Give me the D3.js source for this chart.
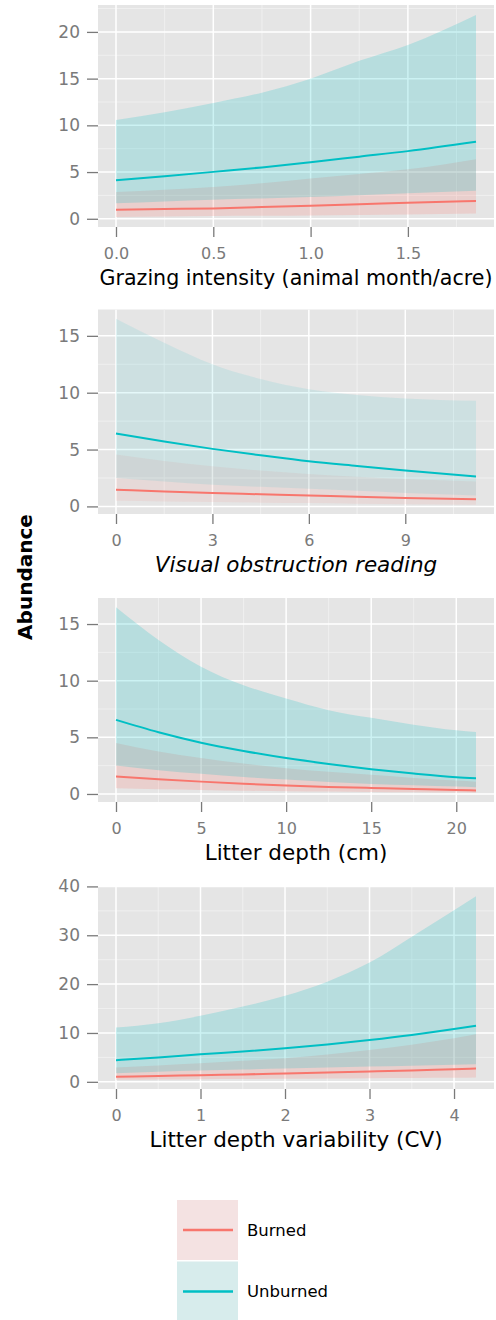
<!DOCTYPE html>
<html>
<head>
<meta charset="utf-8">
<script src="https://cdn.jsdelivr.net/npm/d3@7"></script>
<style>
  body { margin: 0; background: #fff; }
  svg text { font-family: "DejaVu Sans", "Liberation Sans", Arial, sans-serif; }
  .tick text { fill: #7a7a7a; }
  .tick line { stroke: #7a7a7a; stroke-width: 1.3; }
</style>
</head>
<body>
<div id="chart"></div>
<script>
// ---- data ----
var groups = ["Burned", "Unburned"];

// Grazing intensity
var grazX = [0, 0.25, 0.5, 0.75, 1.0, 1.25, 1.5, 1.85];
var grazBurnFit = [0.97, 1.04, 1.11, 1.25, 1.4, 1.55, 1.72, 1.9];
var grazBurnLo = [0.2, 0.25, 0.29, 0.32, 0.36, 0.41, 0.47, 0.57];
var grazBurnHi = [2.87, 3.1, 3.4, 3.8, 4.3, 4.8, 5.3, 6.38];
var grazUnbFit = [4.12, 4.55, 5.02, 5.5, 6.06, 6.65, 7.24, 8.24];
var grazUnbLo = [1.65, 1.85, 2.04, 2.18, 2.33, 2.52, 2.72, 3.0];
var grazUnbHi = [10.57, 11.4, 12.4, 13.5, 15.0, 16.9, 18.6, 21.8];
var grazXTicks = [0, 0.5, 1.0, 1.5];
var grazYTicks = [0, 5, 10, 15, 20];

// Visual obstruction reading
var vorX = [0, 1.5, 3, 4.5, 6, 7.5, 9, 11.2];
var vorBurnFit = [1.47, 1.32, 1.18, 1.07, 0.97, 0.85, 0.74, 0.62];
var vorBurnLo = [0.5, 0.44, 0.38, 0.33, 0.29, 0.24, 0.2, 0.15];
var vorBurnHi = [4.56, 4.0, 3.53, 3.15, 2.85, 2.6, 2.41, 2.2];
var vorUnbFit = [6.41, 5.7, 5.06, 4.5, 3.97, 3.55, 3.15, 2.62];
var vorUnbLo = [2.5, 2.2, 1.91, 1.72, 1.56, 1.37, 1.18, 0.97];
var vorUnbHi = [16.5, 14.4, 12.5, 11.2, 10.3, 9.8, 9.5, 9.3];
var vorXTicks = [0, 3, 6, 9];
var vorYTicks = [0, 5, 10, 15];

// Litter depth
var litX = [0, 2.5, 5, 7.5, 10, 12.5, 15, 17.5, 20, 21.16];
var litBurnFit = [1.54, 1.3, 1.09, 0.9, 0.74, 0.62, 0.53, 0.44, 0.36, 0.3];
var litBurnLo = [0.5, 0.42, 0.36, 0.29, 0.24, 0.21, 0.18, 0.15, 0.12, 0.11];
var litBurnHi = [4.5, 3.75, 3.17, 2.68, 2.28, 1.96, 1.69, 1.42, 1.18, 1.09];
var litUnbFit = [6.54, 5.45, 4.53, 3.8, 3.17, 2.65, 2.19, 1.8, 1.48, 1.39];
var litUnbLo = [2.51, 2.1, 1.78, 1.5, 1.27, 1.06, 0.89, 0.76, 0.65, 0.6];
var litUnbHi = [16.48, 13.6, 11.24, 9.6, 8.43, 7.4, 6.72, 6.12, 5.62, 5.47];
var litXTicks = [0, 5, 10, 15, 20];
var litYTicks = [0, 5, 10, 15];

// Litter depth variability
var cvX = [0, 0.5, 1, 1.5, 2, 2.5, 3, 3.5, 4, 4.26];
var cvBurnFit = [1.02, 1.18, 1.36, 1.52, 1.7, 1.9, 2.1, 2.33, 2.59, 2.72];
var cvBurnLo = [0.41, 0.48, 0.54, 0.58, 0.61, 0.68, 0.75, 0.79, 0.82, 0.88];
var cvBurnHi = [2.93, 3.35, 3.8, 4.3, 4.83, 5.6, 6.53, 7.6, 8.9, 9.73];
var cvUnbFit = [4.42, 5.0, 5.65, 6.2, 6.87, 7.65, 8.57, 9.6, 10.8, 11.5];
var cvUnbLo = [1.77, 2.05, 2.3, 2.52, 2.72, 2.93, 3.13, 3.3, 3.47, 3.6];
var cvUnbHi = [11.1, 12.0, 13.5, 15.4, 17.6, 20.5, 24.4, 29.7, 35.1, 38.0];
var cvXTicks = [0, 1, 2, 3, 4];
var cvYTicks = [0, 10, 20, 30, 40];

// ---- layout ----
var W = 496, H = 1320;
var colors = { Burned: "#F8766D", Unburned: "#00BFC4" };

var panels = [
  { x: grazX, burn: [grazBurnFit, grazBurnLo, grazBurnHi], unb: [grazUnbFit, grazUnbLo, grazUnbHi],
    xt: grazXTicks, yt: grazYTicks, fmt: d3.format(".1f"), title: "Grazing intensity (animal month/acre)",
    top: 5, bottom: 227, alpha: 0.2, italic: false, titleSize: 20.6 },
  { x: vorX, burn: [vorBurnFit, vorBurnLo, vorBurnHi], unb: [vorUnbFit, vorUnbLo, vorUnbHi],
    xt: vorXTicks, yt: vorYTicks, fmt: d3.format("d"), title: "Visual obstruction reading",
    top: 309.5, bottom: 514, alpha: 0.1, italic: true, titleSize: 21.5 },
  { x: litX, burn: [litBurnFit, litBurnLo, litBurnHi], unb: [litUnbFit, litUnbLo, litUnbHi],
    xt: litXTicks, yt: litYTicks, fmt: d3.format("d"), title: "Litter depth (cm)",
    top: 598, bottom: 802, alpha: 0.2, italic: false, titleSize: 21.5 },
  { x: cvX, burn: [cvBurnFit, cvBurnLo, cvBurnHi], unb: [cvUnbFit, cvUnbLo, cvUnbHi],
    xt: cvXTicks, yt: cvYTicks, fmt: d3.format("d"), title: "Litter depth variability (CV)",
    top: 887, bottom: 1089, alpha: 0.2, italic: false, titleSize: 21.5 }
];

var panelLeft = 98, panelRight = 494;

var svg = d3.select("#chart").append("svg")
  .attr("width", W).attr("height", H);

// ggplot-style 5% expansion
function expand(ext) {
  var pad = (ext[1] - ext[0]) * 0.05;
  return [ext[0] - pad, ext[1] + pad];
}

panels.forEach(function (p, i) {
  var allY = p.burn[1].concat(p.burn[2], p.unb[1], p.unb[2]);
  var x = d3.scaleLinear().domain(expand(d3.extent(p.x))).range([panelLeft, panelRight]);
  var y = d3.scaleLinear().domain(expand(d3.extent(allY))).range([p.bottom, p.top]);

  var g = svg.append("g").attr("class", "panel-" + i);

  g.append("clipPath").attr("id", "clip" + i)
    .append("rect")
    .attr("x", panelLeft).attr("y", p.top)
    .attr("width", panelRight - panelLeft).attr("height", p.bottom - p.top);

  g.append("rect")
    .attr("x", panelLeft).attr("y", p.top)
    .attr("width", panelRight - panelLeft).attr("height", p.bottom - p.top)
    .attr("fill", "#e5e5e5");

  var grid = g.append("g").attr("clip-path", "url(#clip" + i + ")");

  // minor grid: halfway between major breaks
  var xstep = p.xt[1] - p.xt[0], ystep = p.yt[1] - p.yt[0];
  var xMinor = d3.range(p.xt[0] - xstep / 2, x.domain()[1], xstep);
  var yMinor = d3.range(p.yt[0] - ystep / 2, y.domain()[1], ystep);

  grid.selectAll(".xminor").data(xMinor).enter().append("line")
    .attr("x1", x).attr("x2", x).attr("y1", p.top).attr("y2", p.bottom)
    .attr("stroke", "#f2f2f2").attr("stroke-width", 0.8);
  grid.selectAll(".yminor").data(yMinor).enter().append("line")
    .attr("y1", y).attr("y2", y).attr("x1", panelLeft).attr("x2", panelRight)
    .attr("stroke", "#f2f2f2").attr("stroke-width", 0.8);
  grid.selectAll(".xmajor").data(p.xt).enter().append("line")
    .attr("x1", x).attr("x2", x).attr("y1", p.top).attr("y2", p.bottom)
    .attr("stroke", "#ffffff").attr("stroke-width", 1.5);
  grid.selectAll(".ymajor").data(p.yt).enter().append("line")
    .attr("y1", y).attr("y2", y).attr("x1", panelLeft).attr("x2", panelRight)
    .attr("stroke", "#ffffff").attr("stroke-width", 1.5);

  var series = [
    { name: "Burned", v: p.burn },
    { name: "Unburned", v: p.unb }
  ];

  var area = d3.area()
    .x(function (d) { return x(d.x); })
    .y0(function (d) { return y(d.lo); })
    .y1(function (d) { return y(d.hi); })
    .curve(d3.curveMonotoneX);
  var line = d3.line()
    .x(function (d) { return x(d.x); })
    .y(function (d) { return y(d.fit); })
    .curve(d3.curveMonotoneX);

  series.forEach(function (s) {
    s.pts = p.x.map(function (xv, k) {
      return { x: xv, fit: s.v[0][k], lo: s.v[1][k], hi: s.v[2][k] };
    });
  });

  series.forEach(function (s) {
    g.append("path").datum(s.pts)
      .attr("d", area)
      .attr("fill", colors[s.name])
      .attr("fill-opacity", p.alpha);
  });
  series.forEach(function (s) {
    g.append("path").datum(s.pts)
      .attr("d", line)
      .attr("fill", "none")
      .attr("stroke", colors[s.name])
      .attr("stroke-width", 2);
  });

  // axes
  var ya = g.append("g")
    .attr("transform", "translate(" + panelLeft + ",0)")
    .call(d3.axisLeft(y).tickValues(p.yt).tickSize(11).tickPadding(7));
  ya.select(".domain").remove();
  ya.selectAll(".tick text").attr("font-size", 17);

  var xa = g.append("g")
    .attr("transform", "translate(0," + p.bottom + ")")
    .call(d3.axisBottom(x).tickValues(p.xt).tickFormat(p.fmt).tickSize(10).tickPadding(11));
  xa.select(".domain").remove();
  xa.selectAll(".tick text").attr("font-size", 16);

  g.append("text")
    .attr("x", (panelLeft + panelRight) / 2)
    .attr("y", p.bottom + 58)
    .attr("text-anchor", "middle")
    .attr("font-size", p.titleSize)
    .attr("font-style", p.italic ? "italic" : "normal")
    .attr("fill", "#000")
    .text(p.title);
});

// y label
svg.append("text")
  .attr("transform", "translate(32,577) rotate(-90)")
  .attr("text-anchor", "middle")
  .attr("font-size", 20)
  .attr("font-weight", "bold")
  .attr("fill", "#000")
  .text("Abundance");

// legend
var legendFill = { Burned: "#f4e2e2", Unburned: "#d7ecec" };
var legend = svg.append("g").attr("transform", "translate(177,1200)");
var keyH = 61.5, keyW = 61;
groups.forEach(function (name, i) {
  var row = legend.append("g").attr("transform", "translate(0," + i * keyH + ")");
  row.append("rect")
    .attr("width", keyW).attr("height", keyH - 1.5)
    .attr("fill", legendFill[name]);
  row.append("line")
    .attr("x1", 6).attr("x2", 56)
    .attr("y1", 30).attr("y2", 30)
    .attr("stroke", colors[name]).attr("stroke-width", 2.5);
  row.append("text")
    .attr("x", 70).attr("y", 30).attr("dy", "0.35em")
    .attr("font-size", 16.5)
    .attr("fill", "#000")
    .text(name);
});
</script>
</body>
</html>
